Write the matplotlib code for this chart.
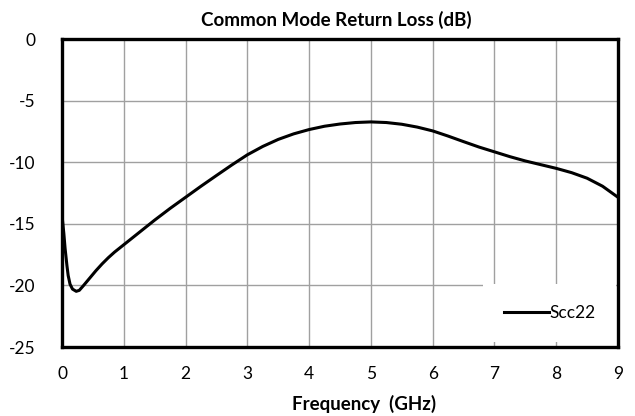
import matplotlib
matplotlib.use("Agg")
import matplotlib.pyplot as plt

freq_ghz = [0.0, 0.03, 0.05, 0.08, 0.1, 0.13, 0.17, 0.23, 0.28, 0.35, 0.45, 0.55,
            0.65, 0.75, 0.85, 1.0, 1.25, 1.5, 1.75, 2.0, 2.25, 2.5, 2.75, 3.0, 3.25,
            3.5, 3.75, 4.0, 4.25, 4.5, 4.75, 5.0, 5.25, 5.5, 5.75, 6.0, 6.25, 6.5,
            6.75, 7.0, 7.25, 7.5, 7.75, 8.0, 8.25, 8.5, 8.75, 9.0]
scc22_db = [-14.3, -15.8, -17.0, -18.4, -19.2, -19.9, -20.3, -20.48, -20.4, -20.0,
            -19.4, -18.8, -18.25, -17.75, -17.3, -16.7, -15.7, -14.7, -13.75, -12.85,
            -11.95, -11.08, -10.22, -9.4, -8.72, -8.15, -7.7, -7.35, -7.08, -6.9,
            -6.78, -6.73, -6.78, -6.92, -7.15, -7.46, -7.88, -8.33, -8.77, -9.16,
            -9.55, -9.9, -10.2, -10.5, -10.85, -11.3, -11.95, -12.85]
x_ticks = [0, 1, 2, 3, 4, 5, 6, 7, 8, 9]
y_ticks = [0, -5, -10, -15, -20, -25]
series_name = "Scc22"

plt.rcParams['font.family'] = ['Lato', 'DejaVu Sans']

fig = plt.figure(figsize=(6.35, 4.16), dpi=100)
ax = fig.add_axes([62/635, 1-347/416, (618-62)/635, (347-39)/416])

ax.plot(freq_ghz, scc22_db, color='black', lw=2.2, label=series_name,
        solid_joinstyle='round')
ax.set_xlim(0, 9)
ax.set_ylim(-25, 0)
ax.set_xticks(x_ticks)
ax.set_yticks(y_ticks)
ax.set_xticklabels([str(t) for t in x_ticks])
ax.set_yticklabels([str(t) for t in y_ticks])
ax.grid(True, color='#a0a0a0', lw=1.0)
ax.set_axisbelow(True)
ax.tick_params(length=0, labelsize=12.5, pad=14)
ax.tick_params(axis='y', pad=19)
for s in ax.spines.values():
    s.set_linewidth(2.4)
    s.set_color('black')

fig.text(336/635, 1-20/416, "Common Mode Return Loss (dB)", ha='center', va='center',
         fontsize=13.5, fontweight='bold')
fig.text(364/635, 1-404/416, "Frequency  (GHz)", ha='center', va='center',
         fontsize=13.5, fontweight='bold')

leg = ax.legend(loc='lower right', bbox_to_anchor=(616/635, 1-342/416, 0, 0),
                bbox_transform=fig.transFigure, frameon=True, fontsize=12.5,
                handlelength=2.6, handletextpad=0.0, borderpad=1.2, borderaxespad=0)
leg.get_frame().set_edgecolor('none')
leg.get_frame().set_facecolor('white')
leg.get_frame().set_alpha(1)
leg.get_frame().set_boxstyle('square', pad=0)

fig.savefig("out.png", dpi=100)
